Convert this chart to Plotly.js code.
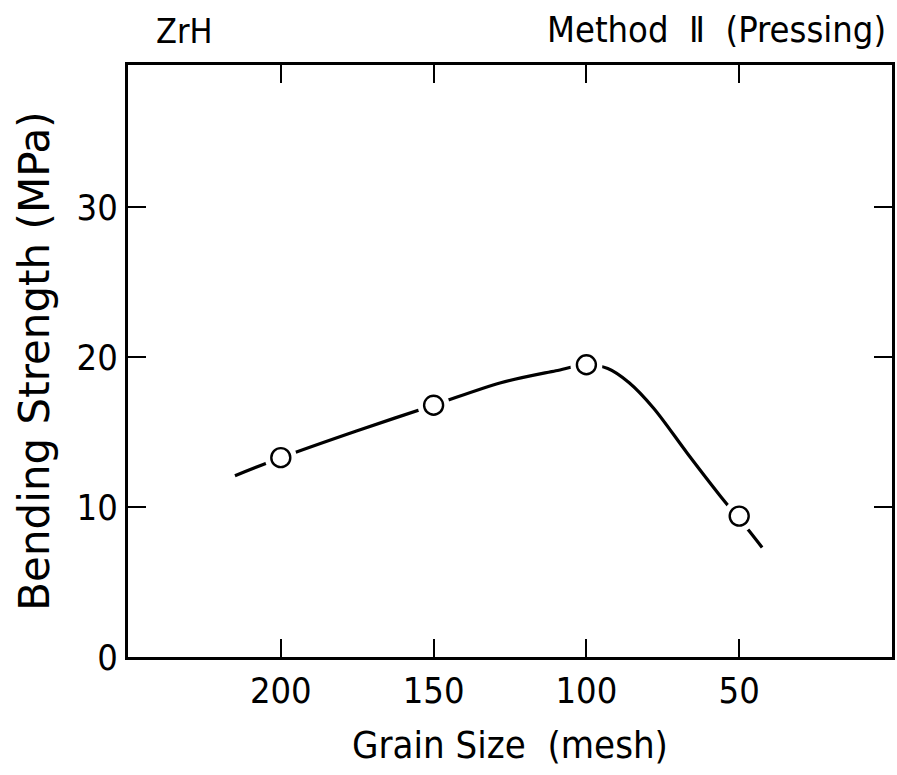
<!DOCTYPE html>
<html>
<head>
<meta charset="utf-8">
<script src="https://cdn.plot.ly/plotly-3.0.1.min.js"></script>
<style>
  html, body { margin: 0; padding: 0; background: #fff; }
  #chart { width: 897px; height: 775px; }
</style>
</head>
<body>
<div id="chart"></div>
<script>
// Measured points: grain size (mesh) vs bending strength (MPa)
const meshSize = [200, 150, 100, 50];
const strength = [13.3, 16.8, 19.5, 9.4];

// Hand-drawn fitted curve
const curveMesh = [215, 200, 175, 150, 128, 110, 100, 93, 86, 78, 67, 56, 47.5, 42.5];
const curveStrength = [12.1, 13.3, 15.1, 16.8, 18.3, 19.1, 19.5, 19.25, 18.3, 16.6, 13.6, 10.7, 8.6, 7.3];

const xTicks = [200, 150, 100, 50];
const xTickText = ['200', '150', '100', '50'];
const yTicks = [0, 10, 20, 30];
const yTickText = ['0', '10', '20', '30'];

const FONT = '"DejaVu Sans Condensed", "Liberation Sans Narrow", "DejaVu Sans", sans-serif';
const FONT_WIDE = '"DejaVu Sans", "Liberation Sans", sans-serif';

const traces = [
  {
    x: curveMesh, y: curveStrength, type: 'scatter', mode: 'lines',
    line: { color: '#000', width: 3.2, shape: 'spline', smoothing: 0.9 },
    hoverinfo: 'skip', showlegend: false
  },
  {
    x: meshSize, y: strength, type: 'scatter', mode: 'markers',
    marker: { symbol: 'circle', size: 32, color: '#fff', line: { width: 0 } },
    hoverinfo: 'skip', showlegend: false
  },
  {
    x: meshSize, y: strength, type: 'scatter', mode: 'markers',
    marker: { symbol: 'circle', size: 19, color: '#fff', line: { color: '#000', width: 2.4 } },
    showlegend: false
  }
];

const layout = {
  width: 897, height: 775,
  margin: { l: 128, r: 5, t: 65, b: 118 },
  paper_bgcolor: '#fff', plot_bgcolor: '#fff',
  font: { family: FONT, color: '#000', size: 36 },
  xaxis: {
    range: [250, 0], autorange: false,
    tickmode: 'array', tickvals: xTicks, ticktext: xTickText,
    ticks: 'inside', ticklen: 18, tickwidth: 2, tickcolor: '#000',
    mirror: 'ticks', showline: true, linecolor: '#000', linewidth: 3,
    showgrid: false, zeroline: false,
    tickfont: { family: FONT, size: 36, color: '#000' },
    title: { text: 'Grain Size  (mesh)', font: { family: FONT, size: 38, color: '#000' }, standoff: 22 }
  },
  yaxis: {
    range: [0, 39.5], autorange: false,
    tickmode: 'array', tickvals: yTicks, ticktext: yTickText,
    ticks: 'inside', ticklen: 18, tickwidth: 2, tickcolor: '#000',
    mirror: 'ticks', showline: true, linecolor: '#000', linewidth: 3,
    showgrid: false, zeroline: false,
    tickfont: { family: FONT, size: 36, color: '#000' },
    title: { text: 'Bending Strength (MPa)', font: { family: FONT_WIDE, size: 42, color: '#000' }, standoff: 14 }
  },
  annotations: [
    { text: 'ZrH', xref: 'paper', yref: 'paper', x: 0.034, y: 1.0, yshift: 34,
      xanchor: 'left', yanchor: 'middle', showarrow: false,
      font: { family: FONT, size: 34, color: '#000' } },
    { text: 'Method  Ⅱ  (Pressing)', xref: 'paper', yref: 'paper', x: 0.995, y: 1.0, yshift: 36,
      xanchor: 'right', yanchor: 'middle', showarrow: false,
      font: { family: FONT, size: 36, color: '#000' } }
  ]
};

Plotly.newPlot('chart', traces, layout, { displayModeBar: false, staticPlot: true });
</script>
</body>
</html>
